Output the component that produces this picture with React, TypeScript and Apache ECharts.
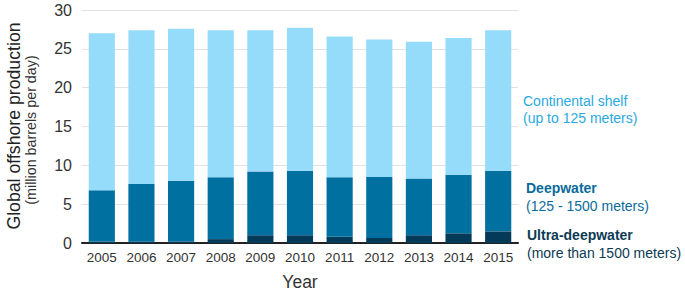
import React, { useEffect, useRef } from "react";
import * as echarts from "echarts";

const years = ["2005", "2006", "2007", "2008", "2009", "2010", "2011", "2012", "2013", "2014", "2015"];
const ultraDeep = [0.2, 0.2, 0.2, 0.5, 1.0, 1.0, 0.8, 0.65, 1.0, 1.25, 1.5];
const deepwater = [6.6, 7.4, 7.8, 7.95, 8.2, 8.3, 7.65, 7.85, 7.3, 7.55, 7.8];
const continentalShelf = [20.2, 19.8, 19.6, 18.95, 18.2, 18.4, 18.15, 17.7, 17.6, 17.6, 18.1];
const yTicks = [0, 5, 10, 15, 20, 25, 30];

const FONT = "'Liberation Sans', Arial, sans-serif";

export default function App() {
  const ref = useRef<HTMLDivElement>(null);
  useEffect(() => {
    if (!ref.current) return;
    const chart = echarts.init(ref.current, null, { renderer: "svg", width: 685, height: 296 });
    const label = (x: number, y: number, text: string, fill: string, font: string) => ({
      type: "text",
      x,
      y,
      style: { text, fill, font, align: "left", verticalAlign: "middle" },
    });
    chart.setOption({
      animation: false,
      grid: { left: 82, width: 436, top: 10, height: 239 },
      xAxis: {
        type: "category",
        data: years,
        axisLine: { lineStyle: { color: "#222", width: 2 } },
        axisTick: { show: false },
        axisLabel: { color: "#333", fontSize: 13.5, fontFamily: FONT, margin: 7 },
        name: "Year",
        nameLocation: "middle",
        nameGap: 30,
        nameTextStyle: { color: "#333", fontSize: 17.5, fontFamily: FONT },
      },
      yAxis: {
        type: "value",
        min: yTicks[0],
        max: yTicks[yTicks.length - 1],
        interval: 5,
        axisLine: { show: false },
        axisTick: { show: false },
        axisLabel: { color: "#333", fontSize: 16, fontFamily: FONT, margin: 10 },
        splitLine: { lineStyle: { color: "#e2e2e2", width: 1 } },
      },
      series: [
        { name: "Ultra-deepwater", type: "bar", stack: "t", data: ultraDeep, barWidth: "66%", itemStyle: { color: "#033a58" } },
        { name: "Deepwater", type: "bar", stack: "t", data: deepwater, barWidth: "66%", itemStyle: { color: "#0070a0" } },
        { name: "Continental shelf", type: "bar", stack: "t", data: continentalShelf, barWidth: "66%", itemStyle: { color: "#95dcfa" } },
      ],
      graphic: [
        { type: "text", x: 14, y: 126, rotation: Math.PI / 2, style: { text: "Global offshore production", fill: "#222", font: `17.7px ${FONT}`, align: "center", verticalAlign: "middle" } },
        { type: "text", x: 31, y: 130, rotation: Math.PI / 2, style: { text: "(million barrels per day)", fill: "#333", font: `14.3px ${FONT}`, align: "center", verticalAlign: "middle" } },
        label(523, 101, "Continental shelf", "#29a9df", `14px ${FONT}`),
        label(523, 118, "(up to 125 meters)", "#29a9df", `14px ${FONT}`),
        label(526, 188, "Deepwater", "#0a6b9c", `bold 14px ${FONT}`),
        label(526, 206, "(125 - 1500 meters)", "#0a6b9c", `14px ${FONT}`),
        label(527, 235, "Ultra-deepwater", "#0d3a55", `bold 14px ${FONT}`),
        label(527, 253, "(more than 1500 meters)", "#0d3a55", `14px ${FONT}`),
      ],
    });
    return () => chart.dispose();
  }, []);
  return <div ref={ref} style={{ width: 685, height: 296, position: "absolute", left: 0, top: 0 }} />;
}
